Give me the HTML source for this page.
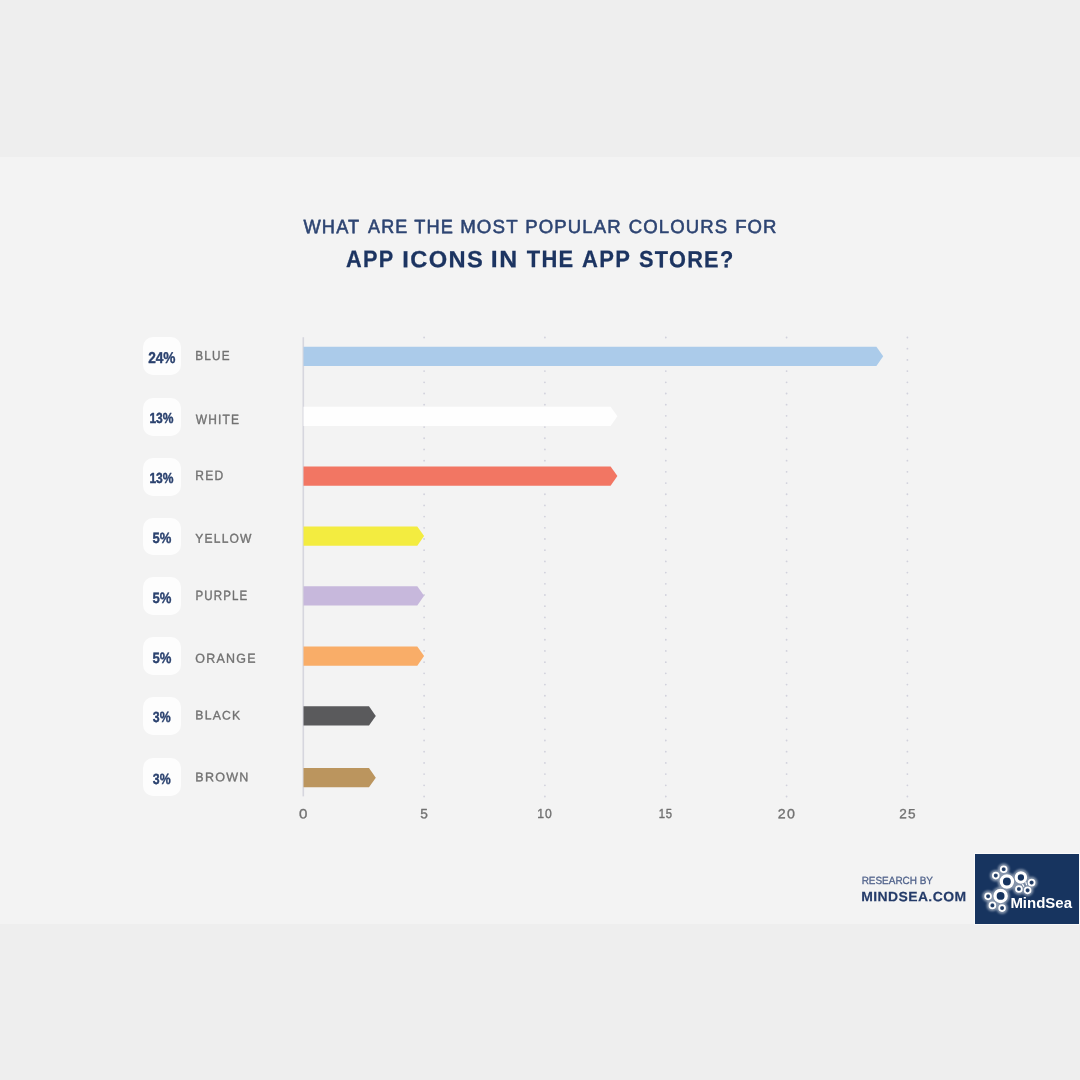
<!DOCTYPE html>
<html lang="en"><head><meta charset="utf-8"><title>Most popular colours for app icons</title>
<style>
html,body{margin:0;padding:0}
body{width:1080px;height:1080px;background:#eeeeee;position:relative;overflow:hidden;font-family:"Liberation Sans",Arial,sans-serif}
.panel{position:absolute;left:0;top:157px;width:1080px;height:767px;background:#f3f3f3}
.badge{position:absolute;left:142.8px;width:37.8px;height:37.7px;border-radius:10px;background:#fdfdfd}
.chart{position:absolute;left:0;top:0}
.logo{position:absolute;left:975px;top:854.2px;width:104.2px;height:69.4px;background:#17345f;box-shadow:0 0 0 0.9px rgba(255,255,255,.6)}
.logo svg{position:absolute;left:0;top:0;overflow:visible}
.wrap{position:absolute;left:0;top:0;width:1080px;height:1080px;filter:blur(0.45px)}
</style></head><body>
<div class="panel"></div>
<div class="wrap">
<div class="badge" style="top:337.2px"></div>
<div class="badge" style="top:398.1px"></div>
<div class="badge" style="top:457.9px"></div>
<div class="badge" style="top:517.8px"></div>
<div class="badge" style="top:577.3px"></div>
<div class="badge" style="top:637.2px"></div>
<div class="badge" style="top:697.0px"></div>
<div class="badge" style="top:758.4px"></div>
<svg class="chart" width="1080" height="1080" viewBox="0 0 1080 1080">
<line x1="424.1" y1="337.5" x2="424.1" y2="797" stroke="#d1d1dc" stroke-width="1.8" stroke-linecap="round" stroke-dasharray="0 11.195"/>
<line x1="544.9" y1="337.5" x2="544.9" y2="797" stroke="#d1d1dc" stroke-width="1.8" stroke-linecap="round" stroke-dasharray="0 11.195"/>
<line x1="665.8" y1="337.5" x2="665.8" y2="797" stroke="#d1d1dc" stroke-width="1.8" stroke-linecap="round" stroke-dasharray="0 11.195"/>
<line x1="786.6" y1="337.5" x2="786.6" y2="797" stroke="#d1d1dc" stroke-width="1.8" stroke-linecap="round" stroke-dasharray="0 11.195"/>
<line x1="907.4" y1="337.5" x2="907.4" y2="797" stroke="#d1d1dc" stroke-width="1.8" stroke-linecap="round" stroke-dasharray="0 11.195"/>
<rect x="302.5" y="337.2" width="1.6" height="459.2" fill="#d6d6de"/>
<polygon points="303.5,346.7 876.4,346.7 883.2,356.35 876.4,366.0 303.5,366.0" fill="#abcbea"/>
<polygon points="303.5,406.7 610.6,406.7 617.4,416.35 610.6,426.0 303.5,426.0" fill="#fefefe"/>
<polygon points="303.5,466.4 610.6,466.4 617.4,476.10 610.6,485.8 303.5,485.8" fill="#f27663"/>
<polygon points="303.5,526.4 417.3,526.4 424.1,536.10 417.3,545.8 303.5,545.8" fill="#f3ec40"/>
<polygon points="303.5,586.3 417.3,586.3 424.1,595.85 417.3,605.4 303.5,605.4" fill="#c7b8dc"/>
<polygon points="303.5,646.4 417.3,646.4 424.1,656.10 417.3,665.8 303.5,665.8" fill="#f9ad68"/>
<polygon points="303.5,706.2 369.0,706.2 375.8,715.90 369.0,725.6 303.5,725.6" fill="#5a5a5c"/>
<polygon points="303.5,768.0 369.0,768.0 375.8,777.65 369.0,787.3 303.5,787.3" fill="#bb955e"/>
</svg>
<svg class="chart txt" width="1080" height="1080" viewBox="0 0 1080 1080" font-family="'Liberation Sans',Arial,sans-serif" text-rendering="geometricPrecision">
<text transform="translate(303.57,233.15) rotate(0.03) scale(0.9379,1)" font-size="19.45" font-weight="400" letter-spacing="1.17" fill="#2d4472" stroke="#2d4472" stroke-width="0.59" stroke-linejoin="round">WHAT</text>
<text transform="translate(368.09,233.26) rotate(0.03) scale(0.9272,1)" font-size="19.38" font-weight="400" letter-spacing="1.16" fill="#2d4472" stroke="#2d4472" stroke-width="0.59" stroke-linejoin="round">ARE</text>
<text transform="translate(414.18,233.15) rotate(0.03) scale(0.9378,1)" font-size="19.45" font-weight="400" letter-spacing="1.17" fill="#2d4472" stroke="#2d4472" stroke-width="0.59" stroke-linejoin="round">THE</text>
<text transform="translate(460.15,232.99) rotate(0.03) scale(0.9963,1)" font-size="18.79" font-weight="400" letter-spacing="1.13" fill="#2d4472" stroke="#2d4472" stroke-width="0.55" stroke-linejoin="round">MOST</text>
<text transform="translate(525.25,233.08) rotate(0.03) scale(0.9800,1)" font-size="18.94" font-weight="400" letter-spacing="1.14" fill="#2d4472" stroke="#2d4472" stroke-width="0.56" stroke-linejoin="round">POPULAR</text>
<text transform="translate(628.66,233.07) rotate(0.03) scale(0.9837,1)" font-size="18.89" font-weight="400" letter-spacing="1.13" fill="#2d4472" stroke="#2d4472" stroke-width="0.56" stroke-linejoin="round">COLOURS</text>
<text transform="translate(735.15,233.07) rotate(0.03) scale(0.9814,1)" font-size="18.90" font-weight="400" letter-spacing="1.13" fill="#2d4472" stroke="#2d4472" stroke-width="0.56" stroke-linejoin="round">FOR</text>
<text transform="translate(346.04,267.10) rotate(0.03) scale(0.9116,1)" font-size="23.82" font-weight="700" letter-spacing="1.43" fill="#1c3461" stroke="#1c3461" stroke-width="0.27" stroke-linejoin="round">APP</text>
<text transform="translate(402.18,267.17) rotate(0.03) scale(1.0143,1)" font-size="23.33" font-weight="700" letter-spacing="1.40" fill="#1c3461" stroke="#1c3461" stroke-width="0.25" stroke-linejoin="round">ICONS</text>
<text transform="translate(490.83,267.36) rotate(0.03) scale(1.0459,1)" font-size="23.77" font-weight="700" letter-spacing="1.43" fill="#1c3461" stroke="#1c3461" stroke-width="0.24" stroke-linejoin="round">IN</text>
<text transform="translate(526.67,267.18) rotate(0.03) scale(0.9227,1)" font-size="23.77" font-weight="700" letter-spacing="1.43" fill="#1c3461" stroke="#1c3461" stroke-width="0.27" stroke-linejoin="round">THE</text>
<text transform="translate(582.05,267.29) rotate(0.03) scale(0.9256,1)" font-size="23.74" font-weight="700" letter-spacing="1.42" fill="#1c3461" stroke="#1c3461" stroke-width="0.27" stroke-linejoin="round">APP</text>
<text transform="translate(638.99,267.12) rotate(0.03) scale(0.9375,1)" font-size="23.16" font-weight="700" letter-spacing="1.39" fill="#1c3461" stroke="#1c3461" stroke-width="0.27" stroke-linejoin="round">STORE?</text>
<text transform="translate(148.15,362.58) rotate(0.03) scale(0.8724,1)" font-size="15.66" font-weight="700" letter-spacing="0.00" fill="#2b426f" stroke="#2b426f" stroke-width="0.40" stroke-linejoin="round">24%</text>
<text transform="translate(149.38,422.82) rotate(0.03) scale(0.8245,1)" font-size="14.60" font-weight="700" letter-spacing="0.00" fill="#2b426f" stroke="#2b426f" stroke-width="0.42" stroke-linejoin="round">13%</text>
<text transform="translate(149.41,482.61) rotate(0.03) scale(0.8264,1)" font-size="14.59" font-weight="700" letter-spacing="0.00" fill="#2b426f" stroke="#2b426f" stroke-width="0.42" stroke-linejoin="round">13%</text>
<text transform="translate(152.60,542.85) rotate(0.03) scale(0.8768,1)" font-size="14.84" font-weight="700" letter-spacing="0.00" fill="#2b426f" stroke="#2b426f" stroke-width="0.40" stroke-linejoin="round">5%</text>
<text transform="translate(152.56,602.54) rotate(0.03) scale(0.8725,1)" font-size="15.01" font-weight="700" letter-spacing="0.00" fill="#2b426f" stroke="#2b426f" stroke-width="0.40" stroke-linejoin="round">5%</text>
<text transform="translate(152.56,662.54) rotate(0.03) scale(0.8725,1)" font-size="15.01" font-weight="700" letter-spacing="0.00" fill="#2b426f" stroke="#2b426f" stroke-width="0.40" stroke-linejoin="round">5%</text>
<text transform="translate(152.81,722.18) rotate(0.03) scale(0.8261,1)" font-size="14.87" font-weight="700" letter-spacing="0.00" fill="#2b426f" stroke="#2b426f" stroke-width="0.42" stroke-linejoin="round">3%</text>
<text transform="translate(152.81,784.10) rotate(0.03) scale(0.8261,1)" font-size="14.87" font-weight="700" letter-spacing="0.00" fill="#2b426f" stroke="#2b426f" stroke-width="0.42" stroke-linejoin="round">3%</text>
<text transform="translate(195.37,359.91) rotate(0.03) scale(0.9006,1)" font-size="13.04" font-weight="400" letter-spacing="1.30" fill="#717171" stroke="#717171" stroke-width="0.39" stroke-linejoin="round">BLUE</text>
<text transform="translate(195.75,423.84) rotate(0.03) scale(0.8869,1)" font-size="13.49" font-weight="400" letter-spacing="1.35" fill="#717171" stroke="#717171" stroke-width="0.39" stroke-linejoin="round">WHITE</text>
<text transform="translate(195.36,480.21) rotate(0.03) scale(0.8823,1)" font-size="13.64" font-weight="400" letter-spacing="1.36" fill="#717171" stroke="#717171" stroke-width="0.40" stroke-linejoin="round">RED</text>
<text transform="translate(195.22,542.85) rotate(0.03) scale(0.9372,1)" font-size="12.87" font-weight="400" letter-spacing="1.29" fill="#717171" stroke="#717171" stroke-width="0.37" stroke-linejoin="round">YELLOW</text>
<text transform="translate(195.38,599.75) rotate(0.03) scale(0.8523,1)" font-size="13.53" font-weight="400" letter-spacing="1.35" fill="#717171" stroke="#717171" stroke-width="0.41" stroke-linejoin="round">PURPLE</text>
<text transform="translate(195.35,662.70) rotate(0.03) scale(0.9553,1)" font-size="13.03" font-weight="400" letter-spacing="1.30" fill="#717171" stroke="#717171" stroke-width="0.37" stroke-linejoin="round">ORANGE</text>
<text transform="translate(195.33,719.37) rotate(0.03) scale(0.9855,1)" font-size="12.38" font-weight="400" letter-spacing="1.24" fill="#717171" stroke="#717171" stroke-width="0.36" stroke-linejoin="round">BLACK</text>
<text transform="translate(195.36,781.16) rotate(0.03) scale(1.0081,1)" font-size="12.43" font-weight="400" letter-spacing="1.24" fill="#717171" stroke="#717171" stroke-width="0.35" stroke-linejoin="round">BROWN</text>
<text transform="translate(298.88,818.27) rotate(0.03) scale(1.1425,1)" font-size="13.23" font-weight="400" letter-spacing="1.06" fill="#717171" stroke="#717171" stroke-width="0.31" stroke-linejoin="round">0</text>
<text transform="translate(420.25,818.27) rotate(0.03) scale(1.0096,1)" font-size="13.52" font-weight="400" letter-spacing="1.08" fill="#717171" stroke="#717171" stroke-width="0.35" stroke-linejoin="round">5</text>
<text transform="translate(537.32,818.34) rotate(0.03) scale(0.9291,1)" font-size="13.07" font-weight="400" letter-spacing="1.05" fill="#717171" stroke="#717171" stroke-width="0.38" stroke-linejoin="round">10</text>
<text transform="translate(658.63,818.45) rotate(0.03) scale(0.8518,1)" font-size="13.26" font-weight="400" letter-spacing="1.06" fill="#717171" stroke="#717171" stroke-width="0.41" stroke-linejoin="round">15</text>
<text transform="translate(777.86,818.13) rotate(0.03) scale(1.0736,1)" font-size="13.23" font-weight="400" letter-spacing="1.06" fill="#717171" stroke="#717171" stroke-width="0.33" stroke-linejoin="round">20</text>
<text transform="translate(899.32,818.35) rotate(0.03) scale(1.0238,1)" font-size="13.30" font-weight="400" letter-spacing="1.06" fill="#717171" stroke="#717171" stroke-width="0.34" stroke-linejoin="round">25</text>
<text transform="translate(861.65,883.89) rotate(0.03) scale(0.9550,1)" font-size="10.43" font-weight="400" letter-spacing="0.00" fill="#52648c" stroke="#52648c" stroke-width="0.31" stroke-linejoin="round">RESEARCH BY</text>
<text transform="translate(861.13,901.32) rotate(0.03) scale(1.0313,1)" font-size="13.53" font-weight="700" letter-spacing="0.41" fill="#243b69" stroke="#243b69" stroke-width="0.19" stroke-linejoin="round">MINDSEA.COM</text>
</svg>
<div class="logo"><svg width="104" height="69" viewBox="975 854.2 104 69">
<defs>
<filter id="glow" x="-30%" y="-30%" width="160%" height="160%"><feGaussianBlur stdDeviation="1.0"/></filter>
<filter id="soft" x="-10%" y="-10%" width="120%" height="120%"><feGaussianBlur stdDeviation="0.35"/></filter>
<g id="rings" fill="none" stroke="#ffffff">
<circle cx="1003.7" cy="869.4" r="2.95" stroke-width="1.75"/>
<circle cx="995.8" cy="875.8" r="2.95" stroke-width="1.75"/>
<circle cx="1006.9" cy="881.7" r="5.6" stroke-width="3.3"/>
<circle cx="1020.9" cy="877.7" r="4.7" stroke-width="3.1"/>
<circle cx="1031.6" cy="882.7" r="3.0" stroke-width="1.75"/>
<circle cx="1018.9" cy="889.2" r="2.95" stroke-width="1.75"/>
<circle cx="1027.6" cy="890.5" r="2.95" stroke-width="1.75"/>
<circle cx="1000.6" cy="896.1" r="5.6" stroke-width="3.3"/>
<circle cx="988.1" cy="896.5" r="2.95" stroke-width="1.75"/>
<circle cx="992.4" cy="905.6" r="2.95" stroke-width="1.75"/>
<circle cx="1002.1" cy="908.3" r="2.95" stroke-width="1.75"/>
<path d="M1022.6 884.6l1.2 2.0M1025.8 882.6l0.7 2.4" stroke-width="1.1" stroke-linecap="round"/>
</g>
</defs>
<g filter="url(#glow)" opacity="0.5"><g fill="none" stroke="#fff">
<circle cx="1003.7" cy="869.4" r="4.2" stroke-width="3.0"/>
<circle cx="995.8" cy="875.8" r="4.2" stroke-width="3.0"/>
<circle cx="1006.9" cy="881.7" r="7.6" stroke-width="3.0"/>
<circle cx="1020.9" cy="877.7" r="6.7" stroke-width="3.0"/>
<circle cx="1031.6" cy="882.7" r="4.3" stroke-width="3.0"/>
<circle cx="1018.9" cy="889.2" r="4.2" stroke-width="3.0"/>
<circle cx="1027.6" cy="890.5" r="4.2" stroke-width="3.0"/>
<circle cx="1000.6" cy="896.1" r="7.6" stroke-width="3.0"/>
<circle cx="988.1" cy="896.5" r="4.2" stroke-width="3.0"/>
<circle cx="992.4" cy="905.6" r="4.2" stroke-width="3.0"/>
<circle cx="1002.1" cy="908.3" r="4.2" stroke-width="3.0"/>
</g></g>
<use href="#rings" filter="url(#soft)"/>
<text x="1010.4" y="908.6" font-family="'Liberation Sans',Arial,sans-serif" font-weight="700" font-size="15.5" fill="#ffffff" textLength="61.6" lengthAdjust="spacingAndGlyphs" filter="url(#soft)">MindSea</text>
</svg>
</div>
</div>
</body></html>
